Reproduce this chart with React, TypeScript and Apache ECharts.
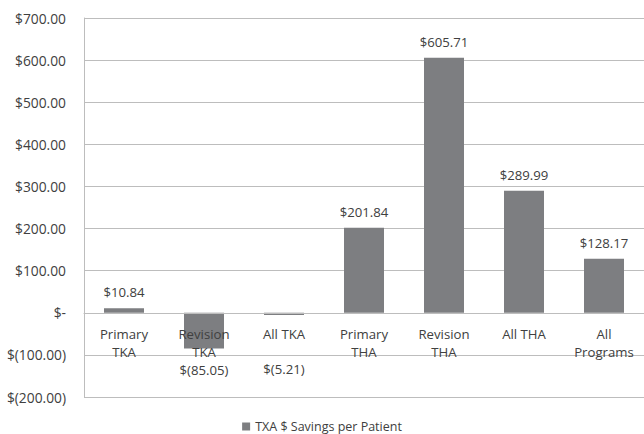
import React, { useEffect, useRef } from "react";
import * as echarts from "echarts";

const categories = ["Primary\nTKA", "Revision\nTKA", "All TKA", "Primary\nTHA", "Revision\nTHA", "All THA", "All\nPrograms"];
const savings = [10.84, -85.05, -5.21, 201.84, 605.71, 289.99, 128.17];
const negLabelDistance = [0, 14, 47, 0, 0, 0, 0];
const seriesName = "TXA $ Savings per Patient";
const yMin = -200;
const yMax = 700;

const fmt = (v: number) => {
  if (v === 0) return "$-";
  if (v < 0) return "$(" + Math.abs(v).toFixed(2) + ")";
  return "$" + v.toFixed(2);
};

const TEXT = "#404040";
const GRID = "#bdbdbd";
const BAR = "#7d7e81";
const FONT = "Open Sans";
const GRID_TOP = 18;
const GRID_BOTTOM = 37;
const H = 434;

export default function App() {
  const ref = useRef<HTMLDivElement>(null);
  useEffect(() => {
    if (!ref.current) return;
    const chart = echarts.init(ref.current, undefined, { renderer: "svg" });
    const plotH = H - GRID_TOP - GRID_BOTTOM;
    const zeroOffset = (-yMin / (yMax - yMin)) * plotH;
    chart.setOption({
      animation: false,
      textStyle: { fontFamily: FONT },
      grid: { left: 84, right: 0, top: GRID_TOP, bottom: GRID_BOTTOM, containLabel: false, outerBoundsMode: "none" },
      legend: {
        bottom: -4,
        left: "center",
        itemWidth: 8,
        itemHeight: 8,
        icon: "rect",
        itemGap: 6,
        textStyle: { color: TEXT, fontSize: 12.5, fontFamily: FONT },
        data: [seriesName],
      },
      xAxis: {
        type: "category",
        data: categories,
        offset: -zeroOffset,
        z: 5,
        axisLine: { onZero: false, lineStyle: { color: GRID, width: 1 } },
        axisTick: { show: false },
        axisLabel: { color: TEXT, fontSize: 13.2, lineHeight: 18, margin: 12, fontFamily: FONT, interval: 0 },
      },
      yAxis: {
        type: "value",
        min: yMin,
        max: yMax,
        interval: 100,
        axisLine: { show: true, lineStyle: { color: GRID } },
        axisTick: { show: false },
        splitLine: { lineStyle: { color: GRID } },
        axisLabel: { color: TEXT, fontSize: 13.8, margin: 18, fontFamily: FONT, formatter: (v: number) => fmt(v) },
      },
      series: [
        {
          name: seriesName,
          type: "bar",
          barWidth: "50%",
          itemStyle: { color: BAR },
          z: 1,
          data: savings.map((v, i) =>
            v < 0
              ? { value: v, label: { position: "bottom", distance: negLabelDistance[i] } }
              : { value: v }
          ),
          label: {
            show: true,
            position: "top",
            distance: 9,
            color: TEXT,
            fontSize: 13.2,
            lineHeight: 14,
            fontFamily: FONT,
            formatter: (p: any) => fmt(p.value),
          },
        },
      ],
    });
    return () => chart.dispose();
  }, []);
  return <div ref={ref} style={{ width: 644, height: 434, position: "absolute", left: 0, top: 0 }} />;
}
